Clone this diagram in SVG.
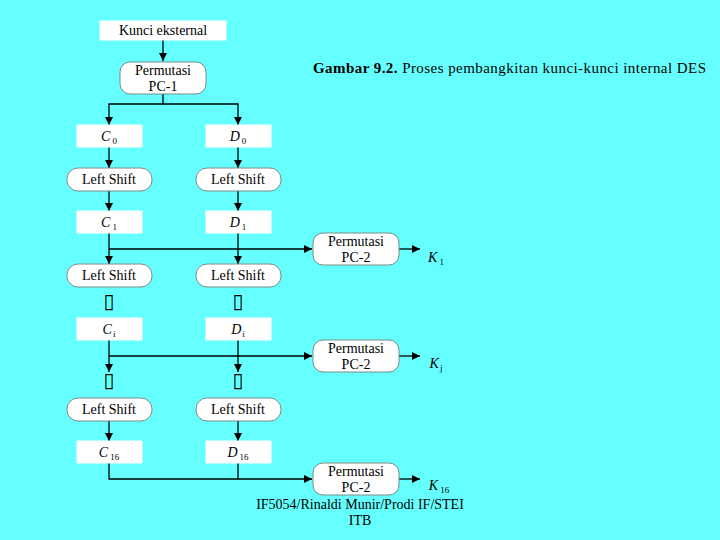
<svg xmlns="http://www.w3.org/2000/svg" width="720" height="540" viewBox="0 0 720 540" font-family="'Liberation Serif', 'DejaVu Serif', serif">
<defs>
<style>
.t{font-family:'Liberation Serif','DejaVu Serif',serif;font-size:14px;fill:#000;text-anchor:middle}
.i{font-style:italic}
.s{font-size:9px;font-style:normal}
.g{font-family:'DejaVu Sans',sans-serif;font-size:20px;fill:#000;text-anchor:middle}
.box{fill:#fff;stroke:#fff;stroke-width:1}
.rbox{fill:#fff;stroke:#7a8a8a;stroke-width:1}
.ln{fill:none;stroke:#000;stroke-width:1.3}
</style>
<marker id="ah" viewBox="0 0 10 10" refX="10" refY="5" markerWidth="8" markerHeight="8" markerUnits="userSpaceOnUse" orient="auto">
<path d="M0,0 L10,5 L0,10 z" fill="#000"/>
</marker>
</defs>
<rect width="720" height="540" fill="#66ffff"/>

<g id="connectors">
<path class="ln" d="M163,40 V61" marker-end="url(#ah)"/>
<path class="ln" d="M163,94 V104 H109 V125" marker-end="url(#ah)"/>
<path class="ln" d="M163,104 H238 V125" marker-end="url(#ah)"/>
<path class="ln" d="M109,147 V168" marker-end="url(#ah)"/>
<path class="ln" d="M238,147 V168" marker-end="url(#ah)"/>
<path class="ln" d="M109,191 V211" marker-end="url(#ah)"/>
<path class="ln" d="M238,191 V211" marker-end="url(#ah)"/>
<path class="ln" d="M109,232 V264" marker-end="url(#ah)"/>
<path class="ln" d="M238,232 V264" marker-end="url(#ah)"/>
<path class="ln" d="M109,249 H312" marker-end="url(#ah)"/>
<path class="ln" d="M399,249 H420" marker-end="url(#ah)"/>
<path class="ln" d="M109,339 V372" marker-end="url(#ah)"/>
<path class="ln" d="M238,339 V372" marker-end="url(#ah)"/>
<path class="ln" d="M109,356 H312" marker-end="url(#ah)"/>
<path class="ln" d="M399,356 H420" marker-end="url(#ah)"/>
<path class="ln" d="M109,420 V441" marker-end="url(#ah)"/>
<path class="ln" d="M238,420 V441" marker-end="url(#ah)"/>
<path class="ln" d="M109,462 V479 H312" marker-end="url(#ah)"/>
<path class="ln" d="M238,462 V479"/>
<path class="ln" d="M399,479 H420" marker-end="url(#ah)"/>
</g>

<g id="kunci-eksternal">
<rect class="box" x="100" y="21" width="126" height="19"/>
<text class="t" x="163" y="35">Kunci eksternal</text>
</g>
<g id="pc1">
<rect class="rbox" x="120" y="62" width="86" height="32" rx="10"/>
<text class="t" x="163" y="75">Permutasi</text>
<text class="t" x="163" y="91">PC-1</text>
</g>

<g id="c0"><rect class="box" x="77" y="125" width="65" height="22"/><text class="t i" x="109" y="141">C<tspan class="s" dx="2" dy="3">0</tspan></text></g>
<g id="d0"><rect class="box" x="206" y="125" width="65" height="22"/><text class="t i" x="238" y="141">D<tspan class="s" dx="2" dy="3">0</tspan></text></g>

<g id="ls1c"><rect class="rbox" x="67" y="168" width="85" height="23" rx="11"/><text class="t" x="109" y="184">Left Shift</text></g>
<g id="ls1d"><rect class="rbox" x="196" y="168" width="85" height="23" rx="11"/><text class="t" x="238" y="184">Left Shift</text></g>

<g id="c1"><rect class="box" x="77" y="211" width="65" height="22"/><text class="t i" x="109" y="227">C<tspan class="s" dx="2" dy="3">1</tspan></text></g>
<g id="d1"><rect class="box" x="206" y="211" width="65" height="22"/><text class="t i" x="238" y="227">D<tspan class="s" dx="2" dy="3">1</tspan></text></g>

<g id="pc2-1"><rect class="rbox" x="313" y="233" width="86" height="32" rx="10"/><text class="t" x="356" y="246">Permutasi</text><text class="t" x="356" y="262">PC-2</text></g>
<g id="k1"><text class="t i" x="436" y="262">K<tspan class="s" dx="2" dy="3">1</tspan></text></g>

<g id="ls2c"><rect class="rbox" x="67" y="264" width="85" height="23" rx="11"/><text class="t" x="109" y="280">Left Shift</text></g>
<g id="ls2d"><rect class="rbox" x="196" y="264" width="85" height="23" rx="11"/><text class="t" x="238" y="280">Left Shift</text></g>

<g id="dots1"><text class="g" x="109" y="308">▯</text><text class="g" x="238" y="308">▯</text></g>

<g id="ci"><rect class="box" x="77" y="318" width="65" height="22"/><text class="t i" x="109" y="334">C<tspan class="s i" dx="1" dy="3">i</tspan></text></g>
<g id="di"><rect class="box" x="206" y="318" width="65" height="22"/><text class="t i" x="238" y="334">D<tspan class="s i" dx="1" dy="3">i</tspan></text></g>

<g id="pc2-i"><rect class="rbox" x="313" y="340" width="86" height="32" rx="10"/><text class="t" x="356" y="353">Permutasi</text><text class="t" x="356" y="369">PC-2</text></g>
<g id="ki"><text class="t i" x="436" y="368">K<tspan class="s i" dx="1" dy="3">j</tspan></text></g>

<g id="dots2"><text class="g" x="109" y="387">▯</text><text class="g" x="238" y="387">▯</text></g>

<g id="ls16c"><rect class="rbox" x="67" y="398" width="85" height="23" rx="11"/><text class="t" x="109" y="414">Left Shift</text></g>
<g id="ls16d"><rect class="rbox" x="196" y="398" width="85" height="23" rx="11"/><text class="t" x="238" y="414">Left Shift</text></g>

<g id="c16"><rect class="box" x="77" y="441" width="65" height="22"/><text class="t i" x="109" y="457">C<tspan class="s" dx="2" dy="3">16</tspan></text></g>
<g id="d16"><rect class="box" x="206" y="441" width="65" height="22"/><text class="t i" x="238" y="457">D<tspan class="s" dx="2" dy="3">16</tspan></text></g>

<g id="pc2-16"><rect class="rbox" x="313" y="463" width="86" height="32" rx="10"/><text class="t" x="356" y="476">Permutasi</text><text class="t" x="356" y="492">PC-2</text></g>
<g id="k16"><text class="t i" x="439" y="490">K<tspan class="s" dx="2" dy="3">16</tspan></text></g>

<g id="title"><text class="t" x="313" y="73" style="text-anchor:start;font-size:15px" textLength="393" lengthAdjust="spacing"><tspan font-weight="bold">Gambar 9.2.</tspan> Proses pembangkitan kunci-kunci internal DES</text></g>
<g id="footer"><text class="t" x="360" y="509">IF5054/Rinaldi Munir/Prodi IF/STEI</text><text class="t" x="360" y="525">ITB</text></g>
</svg>
